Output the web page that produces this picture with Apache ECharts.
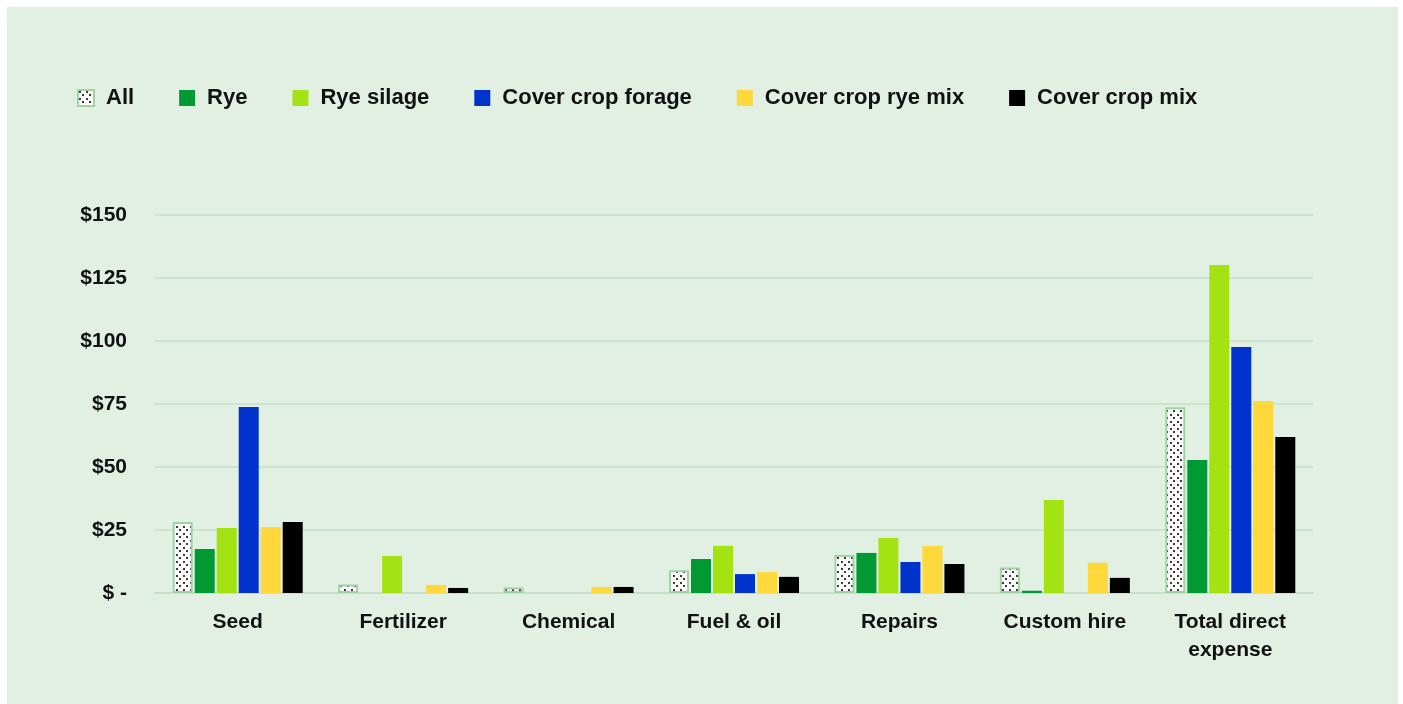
<!DOCTYPE html>
<html>
<head>
<meta charset="utf-8">
<script src="https://cdn.jsdelivr.net/npm/echarts@6/dist/echarts.min.js"></script>
<style>
  html, body { margin: 0; padding: 0; background: #ffffff; }
  #panel { position: absolute; left: 7px; top: 7px; width: 1391px; height: 697px; background: #e2efe3; }
  #chart { position: absolute; left: 0; top: 0; width: 1403px; height: 704px; }
</style>
</head>
<body>
<div id="panel"></div>
<div id="chart"></div>
<script>
const categories = ['Seed', 'Fertilizer', 'Chemical', 'Fuel & oil', 'Repairs', 'Custom hire', 'Total direct\nexpense'];
const seriesNames = ['All', 'Rye', 'Rye silage', 'Cover crop forage', 'Cover crop rye mix', 'Cover crop mix'];
const allValues       = [28.2, 3.4, 2.2, 9.0, 15.1, 10.1, 73.7];
const ryeValues       = [17.5, 0, 0, 13.5, 15.9, 0.9, 52.8];
const ryeSilageValues = [25.8, 14.7, 0, 18.7, 21.8, 36.9, 130.2];
const forageValues    = [73.8, 0, 0, 7.5, 12.3, 0, 97.6];
const ryeMixValues    = [26.2, 3.2, 2.4, 8.3, 18.7, 12.0, 76.2];
const mixValues       = [28.2, 2.0, 2.4, 6.4, 11.5, 6.0, 61.9];
const yTicks = [0, 25, 50, 75, 100, 125, 150];

// dotted pattern for "All"
const tile = document.createElement('canvas');
tile.width = 7; tile.height = 7;
const tctx = tile.getContext('2d');
tctx.fillStyle = '#ffffff';
tctx.fillRect(0, 0, 7, 7);
tctx.fillStyle = '#3a3a3a';
tctx.fillRect(1, 1, 2, 2);
tctx.fillRect(4, 4, 2, 2);
const dotPattern = { image: tile, repeat: 'repeat' };

const colors = [dotPattern, '#009933', '#a3e314', '#0033cc', '#ffd83b', '#000000'];
const dataSets = [allValues, ryeValues, ryeSilageValues, forageValues, ryeMixValues, mixValues];

const chart = echarts.init(document.getElementById('chart'), null, { renderer: 'canvas' });
const font = '"Liberation Sans", Arial, sans-serif';

const series = seriesNames.map((name, i) => ({
  name: name,
  type: 'bar',
  data: dataSets[i],
  barWidth: 20,
  barGap: '10%',
  itemStyle: i === 0
    ? { color: dotPattern, borderColor: '#9fd3a4', borderWidth: 2 }
    : { color: colors[i] },
  emphasis: { disabled: true }
}));

chart.setOption({
  backgroundColor: 'transparent',
  animation: false,
  legend: {
    left: 72,
    top: 82,
    itemWidth: 16,
    itemHeight: 16,
    itemGap: 45,
    icon: 'rect',
    textStyle: { fontFamily: font, fontSize: 22, fontWeight: 'bold', color: '#111', padding: [0, 0, 0, 7] },
    data: seriesNames.map((n, i) => i === 0
      ? { name: n, itemStyle: { color: dotPattern, borderColor: '#9fd3a4', borderWidth: 2 } }
      : { name: n })
  },
  grid: { left: 155, right: 90, top: 215, bottom: 111, containLabel: false },
  xAxis: {
    type: 'category',
    data: categories,
    axisLine: { show: true, lineStyle: { color: '#c6e0c9', width: 2 } },
    axisTick: { show: false },
    axisLabel: { fontFamily: font, fontSize: 21, fontWeight: 'bold', color: '#111', margin: 15, lineHeight: 28, interval: 0 }
  },
  yAxis: {
    type: 'value',
    min: 0,
    max: 150,
    interval: 25,
    axisLine: { show: false },
    axisTick: { show: false },
    splitLine: { lineStyle: { color: '#c6e0c9', width: 1.5 } },
    axisLabel: {
      fontFamily: font, fontSize: 21, fontWeight: 'bold', color: '#111', margin: 28,
      formatter: v => v === 0 ? '$ -' : '$' + v
    }
  },
  series: series
});
</script>
</body>
</html>
